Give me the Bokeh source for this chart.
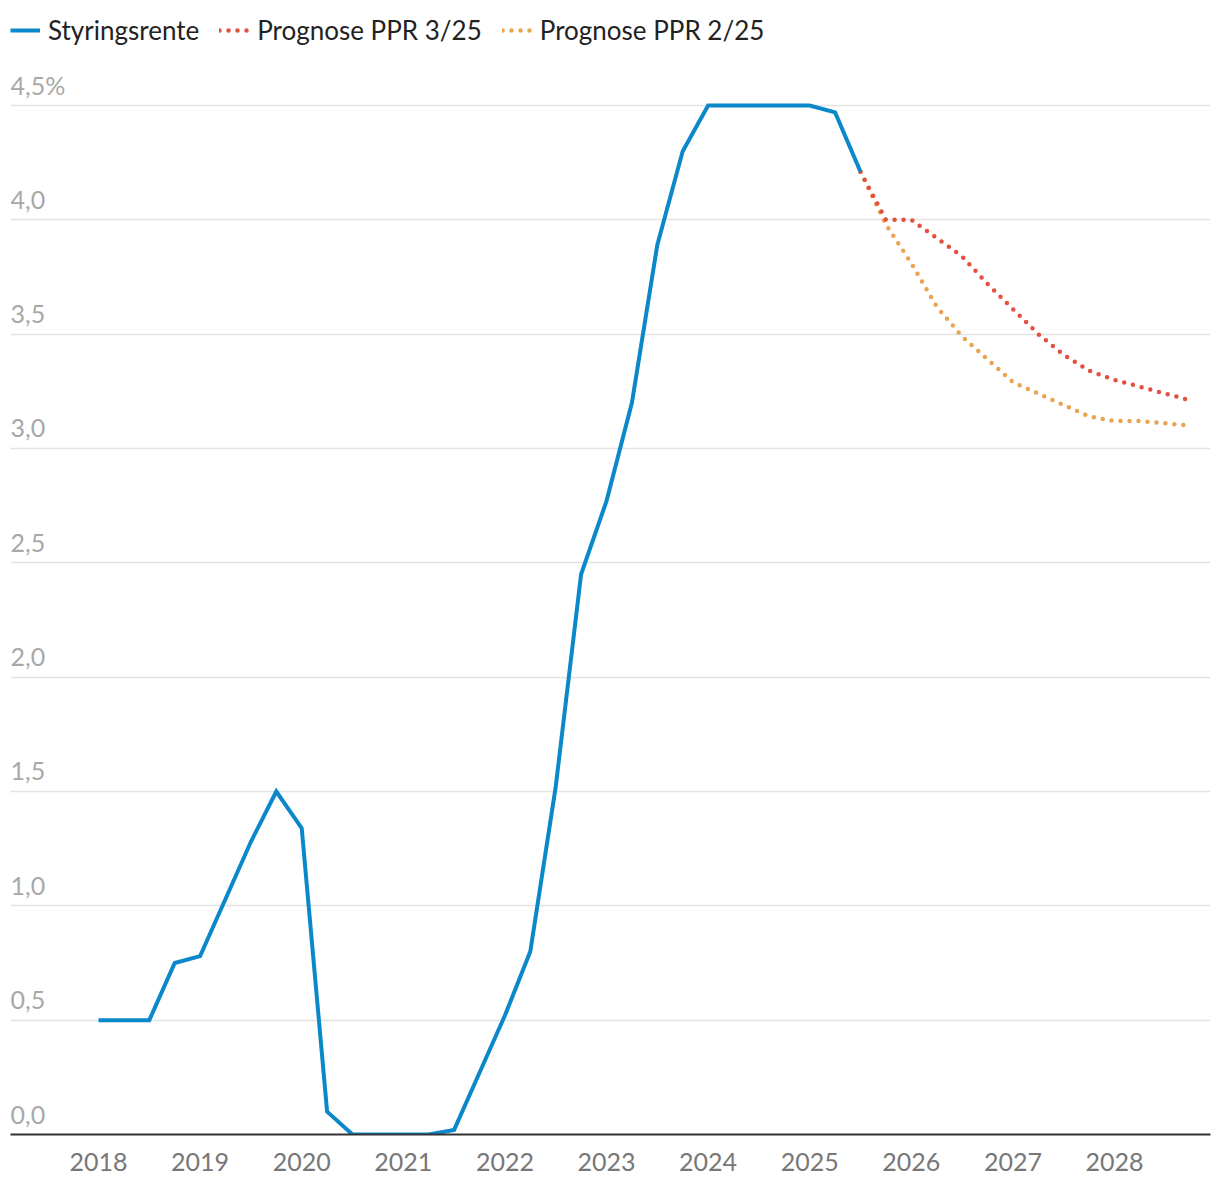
from bokeh.plotting import figure
from bokeh.models import Range1d, FixedTicker, Legend, LegendItem
from bokeh.core.properties import value
from bokeh.embed import file_html
from bokeh.resources import INLINE

# ---- data ----
hist_start_year = 2018
policy_rate = [0.5, 0.5, 0.5, 0.75, 0.78, 1.03, 1.28, 1.5,
               1.34, 0.1, 0.0, 0.0, 0.0, 0.0, 0.02, 0.27,
               0.52, 0.8, 1.52, 2.45, 2.77, 3.2, 3.89, 4.3,
               4.5, 4.5, 4.5, 4.5, 4.5, 4.47, 4.21]
forecast_quarters = ["2025Q3", "2025Q4", "2026Q1", "2026Q2", "2026Q3", "2026Q4", "2027Q1",
                     "2027Q2", "2027Q3", "2027Q4", "2028Q1", "2028Q2", "2028Q3", "2028Q4"]
ppr_3_25 = [4.21, 4.0, 4.0, 3.92, 3.84, 3.72, 3.61, 3.50, 3.41, 3.34, 3.30, 3.27, 3.24, 3.21]
ppr_2_25 = [4.21, 3.98, 3.81, 3.62, 3.49, 3.39, 3.29, 3.24, 3.19, 3.14, 3.12, 3.12, 3.11, 3.10]
x_ticks = [2018, 2019, 2020, 2021, 2022, 2023, 2024, 2025, 2026, 2027, 2028]
y_ticks = [0.0, 0.5, 1.0, 1.5, 2.0, 2.5, 3.0, 3.5, 4.0, 4.5]
y_tick_labels = ["0,0", "0,5", "1,0", "1,5", "2,0", "2,5", "3,0", "3,5", "4,0", "4,5%"]
series_names = ["Styringsrente", "Prognose PPR 3/25", "Prognose PPR 2/25"]


def qpos(label):
    return int(label[:4]) + (int(label[-1]) - 1) / 4.0


hist_x = [hist_start_year + i / 4.0 for i in range(len(policy_rate))]
fc_x = [qpos(q) for q in forecast_quarters]

# ---- layout ----
px_per_year = 101.6
px_per_unit = 228.67
frame_w = 1200
frame_h = 1126
x_start = 2018 - 88 / px_per_year
x_end = x_start + frame_w / px_per_year
y_end = frame_h / px_per_unit

FONT = "Lato"

p = figure(width=1220, height=1184, output_backend="svg", toolbar_location=None,
           x_range=Range1d(x_start, x_end), y_range=Range1d(0, y_end),
           min_border_left=10, min_border_right=10, min_border_top=8, min_border_bottom=50)
p.outline_line_color = None
p.background_fill_color = "white"
p.border_fill_color = "white"

p.xgrid.visible = False
p.yaxis.ticker = FixedTicker(ticks=y_ticks)
p.ygrid.ticker = FixedTicker(ticks=y_ticks)
p.ygrid.grid_line_color = "#e2e2e2"
p.ygrid.grid_line_width = 1.5
p.yaxis.visible = False

p.xaxis.ticker = FixedTicker(ticks=x_ticks)
p.xaxis.major_label_overrides = {t: str(t) for t in x_ticks}
p.xaxis.axis_line_color = "#333333"
p.xaxis.axis_line_width = 2
p.xaxis.major_tick_line_color = None
p.xaxis.minor_tick_line_color = None
p.xaxis.major_label_standoff = 12
p.xaxis.major_label_text_font = FONT
p.xaxis.major_label_text_font_size = "25px"
p.xaxis.major_label_text_color = "#777777"

# y tick labels inside the plot, above each gridline
p.text(x=[x_start] * len(y_ticks), y=y_ticks, text=y_tick_labels,
       text_font=value(FONT), text_font_size="25px", text_color="#a8a8a8",
       text_baseline="alphabetic", text_align="left", y_offset=-20)

r_or = p.line(fc_x, ppr_2_25, line_color="#e9a352", line_width=4.5,
              line_dash="0 9", line_cap="round")
r_red = p.line(fc_x, ppr_3_25, line_color="#e2503f", line_width=4.5,
               line_dash="0 9", line_cap="round")
r_blue = p.line(hist_x, policy_rate, line_color="#0a88c9", line_width=4,
                line_join="miter")

legend = Legend(items=[LegendItem(label=series_names[0], renderers=[r_blue]),
                       LegendItem(label=series_names[1], renderers=[r_red]),
                       LegendItem(label=series_names[2], renderers=[r_or])],
                orientation="horizontal", location="top_left")
legend.label_text_font = FONT
legend.label_text_font_size = "26px"
legend.label_text_color = "#222222"
legend.glyph_width = 30
legend.glyph_height = 44
legend.label_height = 44
legend.label_standoff = 8
legend.spacing = 20
legend.padding = 2
legend.margin = 0
legend.border_line_color = None
legend.background_fill_alpha = 0
p.add_layout(legend)

open("out.html", "w").write(file_html(p, INLINE))
